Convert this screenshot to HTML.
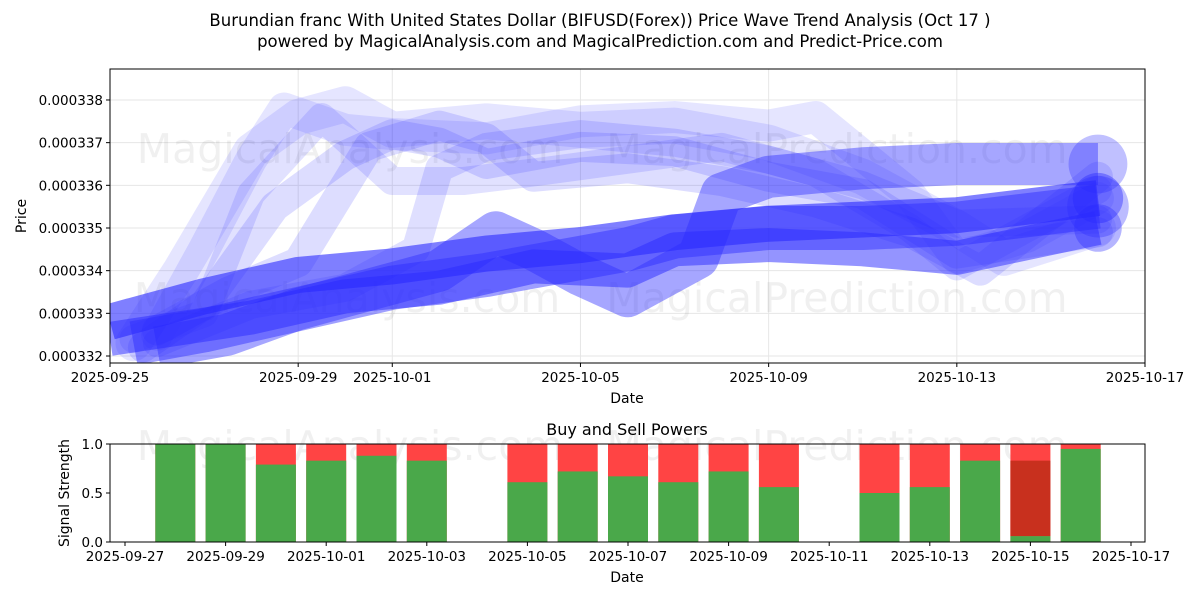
<!DOCTYPE html>
<html><head><meta charset="utf-8"><style>
body{margin:0;background:#fff;}
svg text{font-family:"DejaVu Sans","Liberation Sans",sans-serif;}
</style></head><body>
<svg width="1200" height="600" viewBox="0 0 1200 600" xmlns="http://www.w3.org/2000/svg">
<rect width="1200" height="600" fill="#fff"/>
<text x="600" y="26" text-anchor="middle" font-size="16.5">Burundian franc With United States Dollar (BIFUSD(Forex)) Price Wave Trend Analysis (Oct 17 )</text>
<text x="600" y="47" text-anchor="middle" font-size="16.5">powered by MagicalAnalysis.com and MagicalPrediction.com and Predict-Price.com</text>
<g id="topg"></g>
<g id="botg"></g>
</svg>
<script>
// ---- price chart data (day offset from 2025-09-25, price in 1e-6 units) ----
const xTickLabels=["2025-09-25","2025-09-29","2025-10-01","2025-10-05","2025-10-09","2025-10-13","2025-10-17"];
const xTickDays=[0,4,6,10,14,18,22];
const yTickVals=[332,333,334,335,336,337,338];
const waveDays=[
 [0,2,4,6,8,10,12,14,16,18,21],
 [0,3,5,7,9,11,12,14,16,18,21],
 [0.5,2,4,6,8,10,11,12,14,16,18,21],
 [1,2.5,4,5,6,7,8.2,9,10,11,12.5,13,14,16,18,21],
 [0.5,1.5,3,4,5,6,8,10,12,14,16,18,19,21],
 [1,2,3,3.7,5,6,8,10,12,14,15,17,18,19.5,21],
 [0.7,2,3.5,5,6,7,8,10,12,14,16,18,21],
 [1,2.5,4,5.5,7,8,9,11,13,15,17,18.5,21],
 [0.5,2,3,4.5,6,7.5,9,11,13,15,17,18,21],
 [1,3,5,6.5,7,8,10,12,14,16,18,21]
];
const waveVals=[
 [332.8,333.4,333.9,334.1,334.4,334.6,334.9,335.1,335.2,335.3,335.7],
 [332.4,332.9,333.4,333.6,334.1,334.0,334.5,334.6,334.5,334.3,335.0],
 [332.3,332.6,333.1,333.6,333.9,334.3,334.5,334.8,335.0,335.0,335.1,335.5],
 [332.2,332.5,333.1,333.4,333.7,334.0,334.9,334.5,333.9,333.4,334.3,335.8,336.2,336.4,336.5,336.5],
 [332.3,334.0,336.8,337.6,337.9,337.3,337.5,337.3,337.4,337.0,336.2,335.0,334.3,335.0],
 [332.5,334.5,336.6,337.8,337.3,337.2,337.1,337.5,337.6,337.4,337.6,335.8,334.3,334.8,335.7],
 [332.2,333.2,335.5,336.7,337.2,337.0,336.5,336.9,336.8,336.2,335.8,334.4,334.9],
 [332.6,333.5,334.2,336.9,337.4,337.1,336.2,336.4,336.1,335.6,334.9,334.0,336.2],
 [332.4,333.0,335.8,337.6,336.1,336.1,336.3,336.6,336.9,336.3,335.0,334.1,335.9],
 [332.3,333.2,333.6,334.5,336.4,336.9,337.2,337.0,336.6,336.0,335.1,335.2]
];
const waveWidths=[36,34,44,42,36,32,30,30,28,28];
const waveOpac=[0.6,0.5,0.45,0.42,0.12,0.12,0.16,0.16,0.14,0.15];

// ---- signal chart data ----
const barDates=["09-28","09-29","09-30","10-01","10-02","10-03","10-05","10-06","10-07","10-08","10-09","10-10","10-12","10-13","10-14","10-15","10-16"];
const barDays=[1,2,3,4,5,6,8,9,10,11,12,13,15,16,17,18,19]; // days from 2025-09-27
const buyVals=[1.0,1.0,0.79,0.83,0.88,0.83,0.61,0.72,0.67,0.61,0.72,0.56,0.50,0.56,0.83,0.06,0.95];
const mixTop=[0,0,0,0,0,0,0,0,0,0,0,0,0,0,0,0.83,0];
const bTickLabels=["2025-09-27","2025-09-29","2025-10-01","2025-10-03","2025-10-05","2025-10-07","2025-10-09","2025-10-11","2025-10-13","2025-10-15","2025-10-17"];
const bTickDays=[0,2,4,6,8,10,12,14,16,18,20];
const bYTicks=[0,0.5,1.0];

const NS="http://www.w3.org/2000/svg";
const FS=13.5;
function mk(tag,attrs,parent){const e=document.createElementNS(NS,tag);for(const k in attrs)e.setAttribute(k,attrs[k]);parent.appendChild(e);return e;}
const topG=document.getElementById('topg'), botG=document.getElementById('botg');
const L=110,R=1145,T=69,B=363;
const xs=d=>L+d*(R-L)/22;
const ys=v=>356-(v-332)*42.67;
for(let i=0;i<xTickDays.length;i++){
 const x=xs(xTickDays[i]);
 const g=mk('line',{x1:x,x2:x,y1:T,y2:B,stroke:'#e6e6e6','stroke-width':1},topG);
 
 
}
for(const v of yTickVals){
 const y=ys(v);
 const g=mk('line',{x1:L,x2:R,y1:y,y2:y,stroke:'#e6e6e6','stroke-width':1},topG);
 
 
}
const wm=[[350,163,"MagicalAnalysis.com"],[837,163,"MagicalPrediction.com"],[347,312,"MagicalAnalysis.com"],[837,312,"MagicalPrediction.com"],[350,460,"MagicalAnalysis.com"],[837,460,"MagicalPrediction.com"]];
for(const w of wm){
 const t=mk('text',{x:w[0],y:w[1],'text-anchor':'middle','font-size':41,fill:'#000','fill-opacity':0.06},topG);
 t.textContent=w[2];
 
 
}
const clip=mk('clipPath',{id:'c1'},topG);mk('rect',{x:L,y:T,width:R-L,height:B-T},clip);
const lg=mk('g',{'clip-path':'url(#c1)'},topG);
for(let s=0;s<waveDays.length;s++){
 const pts=waveDays[s].map((d,i)=>xs(d)+','+ys(waveVals[s][i])).join(' ');
 const p=mk('polyline',{points:pts,fill:'none',stroke:'#2a2aff','stroke-opacity':waveOpac[s],'stroke-width':waveWidths[s],'stroke-linejoin':'round','stroke-linecap':s<4?'butt':'round'},lg);
 
 
 const n=waveDays[s].length-1;
 if(s<4){const c=mk('circle',{cx:xs(waveDays[s][n]),cy:ys(waveVals[s][n]),r:waveWidths[s]*0.7,fill:'#2a2aff','fill-opacity':waveOpac[s]*0.7},lg);
 
 }
}
mk('rect',{x:L,y:T,width:R-L,height:B-T,fill:'none',stroke:'#000','stroke-width':1},topG);
for(let i=0;i<xTickDays.length;i++){
 const x=xs(xTickDays[i]);
 mk('line',{x1:x,x2:x,y1:B,y2:B+4,stroke:'#000'},topG);
 const t=mk('text',{x:x,y:B+19,'text-anchor':'middle','font-size':FS},topG);t.textContent=xTickLabels[i];
 
 
}
for(const v of yTickVals){
 const y=ys(v);
 mk('line',{x1:L-4,x2:L,y1:y,y2:y,stroke:'#000'},topG);
 const t=mk('text',{x:L-7,y:y+5,'text-anchor':'end','font-size':FS},topG);t.textContent=(v/1e6).toFixed(6);
 
 
}
let t=mk('text',{x:627,y:403,'text-anchor':'middle','font-size':14},topG);t.textContent='Date';


t=mk('text',{x:26,y:216,'text-anchor':'middle','font-size':14,transform:'rotate(-90 26 216)'},topG);t.textContent='Price';



const bL=110,bR=1145,bT=444,bB=542;
const bx=d=>125+d*50.3;
const by=v=>bB-v*(bB-bT);
t=mk('text',{x:627,y:435,'text-anchor':'middle','font-size':16},botG);t.textContent='Buy and Sell Powers';


for(let i=0;i<barDays.length;i++){
 const x=bx(barDays[i])-20;
 const r=mk('rect',{x:x,y:by(1),width:40,height:by(0)-by(1),fill:'#ff4444'},botG);
 
 
 if(mixTop[i]>0){const m=mk('rect',{x:x,y:by(mixTop[i]),width:40,height:by(buyVals[i])-by(mixTop[i]),fill:'#c8301e'},botG);
 
 }
 const g=mk('rect',{x:x,y:by(buyVals[i]),width:40,height:by(0)-by(buyVals[i]),fill:'#4aa84a'},botG);
 
 
}
mk('rect',{x:bL,y:bT,width:bR-bL,height:bB-bT,fill:'none',stroke:'#000'},botG);
for(let i=0;i<bTickDays.length;i++){
 const x=bx(bTickDays[i]);
 mk('line',{x1:x,x2:x,y1:bB,y2:bB+4,stroke:'#000'},botG);
 const tt=mk('text',{x:x,y:bB+19,'text-anchor':'middle','font-size':FS},botG);tt.textContent=bTickLabels[i];
 
 
}
for(const v of bYTicks){
 const y=by(v);
 mk('line',{x1:bL-4,x2:bL,y1:y,y2:y,stroke:'#000'},botG);
 const tt=mk('text',{x:bL-7,y:y+5,'text-anchor':'end','font-size':FS},botG);tt.textContent=v.toFixed(1);
 
 
}
t=mk('text',{x:627,y:582,'text-anchor':'middle','font-size':14},botG);t.textContent='Date';


t=mk('text',{x:69,y:493,'text-anchor':'middle','font-size':14,transform:'rotate(-90 69 493)'},botG);t.textContent='Signal Strength';


</script>
</body></html>
